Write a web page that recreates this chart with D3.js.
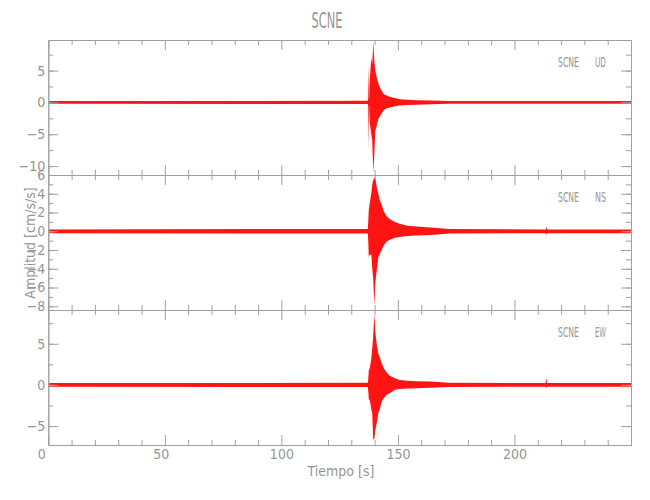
<!DOCTYPE html>
<html><head><meta charset="utf-8">
<script src="https://cdn.jsdelivr.net/npm/d3@7"></script>
<style>body{margin:0;background:#fff}</style>
</head><body><svg id="c" width="650" height="500"></svg>
<script>
const titleText = "SCNE";
const station = "SCNE";
const components = ["UD", "NS", "EW"];
const timeKnots = [0, 137.1, 137.35, 137.5, 137.65, 137.9, 138.6, 139.0, 139.4, 139.9, 140.3, 141.0, 141.6, 142.2, 143.1, 144.0, 145.2, 146.5, 148.7, 150.8, 154, 158, 164, 172, 213.4, 213.7, 214.0, 250];
const udMax = [0.22, 0.25, 6.0, 0.5, 0.6, 3.6, 7.0, 6.0, 9.4, 6.5, 5.0, 3.8, 3.0, 2.4, 1.8, 1.3, 1.1, 0.9, 0.7, 0.5, 0.4, 0.35, 0.3, 0.22, 0.22, 0.22, 0.22, 0.22];
const udMin = [-0.22, -0.25, -7.5, -0.5, -0.6, -3.2, -5.0, -6.0, -11.0, -8.0, -4.5, -3.5, -2.6, -2.2, -1.7, -1.2, -0.9, -0.8, -0.6, -0.5, -0.4, -0.35, -0.3, -0.22, -0.22, -0.22, -0.22, -0.22];
const nsMax = [0.2, 0.25, 1.5, 2.3, 2.5, 3.0, 4.1, 5.0, 5.5, 5.7, 5.7, 4.6, 4.0, 3.3, 2.8, 2.1, 1.6, 1.3, 1.0, 0.8, 0.6, 0.5, 0.4, 0.25, 0.2, 0.5, 0.2, 0.2];
const nsMin = [-0.2, -0.25, -1.5, -2.8, -2.7, -2.5, -2.5, -4.0, -5.0, -7.9, -5.5, -4.0, -2.8, -2.4, -2.0, -1.5, -1.1, -0.9, -0.7, -0.6, -0.5, -0.45, -0.4, -0.25, -0.2, -0.35, -0.2, -0.2];
const ewMax = [0.22, 0.25, 1.0, 1.8, 1.8, 2.0, 3.2, 4.5, 6.0, 8.7, 6.5, 4.8, 3.8, 3.4, 2.6, 2.0, 1.5, 1.1, 0.8, 0.6, 0.5, 0.45, 0.4, 0.25, 0.22, 0.85, 0.22, 0.22];
const ewMin = [-0.22, -0.25, -1.0, -1.8, -1.8, -1.8, -3.0, -3.5, -6.7, -6.5, -5.5, -4.5, -3.4, -3.0, -2.0, -1.6, -1.2, -1.0, -0.6, -0.5, -0.45, -0.4, -0.35, -0.25, -0.22, -0.35, -0.22, -0.22];
const seriesMax = [udMax, nsMax, ewMax];
const seriesMin = [udMin, nsMin, ewMin];
const yDomains = [[-11.4, 9.8], [-8.4, 6], [-7.3, 9.1]];
const yMajorTicks = [[-10, -5, 0, 5], [-8, -6, -4, -2, 0, 2, 4, 6], [-5, 0, 5]];
const yMinorTicks = [[-10, -7.5, -5, -2.5, 0, 2.5, 5, 7.5], [-8, -7, -6, -5, -4, -3, -2, -1, 0, 1, 2, 3, 4, 5, 6], [-5, -2.5, 0, 2.5, 5, 7.5]];
const xDomain = [0, 250];
const xMajorTicks = [0, 50, 100, 150, 200];
const xMinorTicks = [10, 20, 30, 40, 60, 70, 80, 90, 110, 120, 130, 140, 160, 170, 180, 190, 210, 220, 230, 240];
const xLabel = "Tiempo [s]";
const yLabel = "Amplitud [cm/s/s]";

const svg = d3.select("#c");
const L = 48.3, R = 631, T0 = 40, PH = 135;
const axisCol = "#a0a0a0", textCol = "#959595";
const font = "'Liberation Sans Narrow', 'DejaVu Sans Condensed', 'Liberation Sans', sans-serif";
const x = d3.scaleLinear().domain(xDomain).range([L, R]);

function styleAxis(g, showText) {
  g.selectAll("path.domain").attr("stroke", axisCol).attr("stroke-width", 1);
  g.selectAll(".tick line").attr("stroke", axisCol).attr("stroke-width", 1);
  g.selectAll(".tick text").attr("fill", textCol).attr("font-family", font).attr("font-size", 14);
  if (!showText) g.selectAll(".tick text").remove();
}

components.forEach((comp, i) => {
  const top = T0 + i * PH, bot = top + PH;
  const y = d3.scaleLinear().domain(yDomains[i]).range([bot, top]);
  const data = timeKnots.map((t, k) => ({t, hi: seriesMax[i][k], lo: seriesMin[i][k]}));
  const clipId = "clip" + i;
  svg.append("clipPath").attr("id", clipId).append("rect").attr("x", L).attr("y", top).attr("width", R - L).attr("height", PH);
  const area = d3.area().x(d => x(d.t)).y0(d => y(d.lo)).y1(d => y(d.hi));
  svg.append("path").datum(data).attr("clip-path", `url(#${clipId})`)
    .attr("d", area).attr("fill", "#ff0000").attr("fill-opacity", 0.92);

  svg.append("g").attr("transform", `translate(${L},0)`)
    .call(d3.axisLeft(y).tickValues(yMinorTicks[i]).tickSize(-5).tickSizeOuter(0).tickFormat(""))
    .call(g => styleAxis(g, false));
  svg.append("g").attr("transform", `translate(${L},0)`)
    .call(d3.axisLeft(y).tickValues(yMajorTicks[i]).tickSize(-10).tickSizeOuter(0).tickPadding(3))
    .call(g => styleAxis(g, true));
  svg.append("g").attr("transform", `translate(${R},0)`)
    .call(d3.axisRight(y).tickValues(yMinorTicks[i]).tickSize(-5).tickSizeOuter(0).tickFormat(""))
    .call(g => styleAxis(g, false));
  svg.append("g").attr("transform", `translate(${R},0)`)
    .call(d3.axisRight(y).tickValues(yMajorTicks[i]).tickSize(-10).tickSizeOuter(0).tickFormat(""))
    .call(g => styleAxis(g, false));
  svg.append("g").attr("transform", `translate(0,${top})`)
    .call(d3.axisTop(x).tickValues(xMinorTicks).tickSize(-5).tickSizeOuter(0).tickFormat(""))
    .call(g => styleAxis(g, false));
  svg.append("g").attr("transform", `translate(0,${top})`)
    .call(d3.axisTop(x).tickValues(xMajorTicks).tickSize(-10).tickSizeOuter(0).tickFormat(""))
    .call(g => styleAxis(g, false));
  svg.append("g").attr("transform", `translate(0,${bot})`)
    .call(d3.axisBottom(x).tickValues(xMinorTicks).tickSize(-5).tickSizeOuter(0).tickFormat(""))
    .call(g => styleAxis(g, false));
  const bx = svg.append("g").attr("transform", `translate(0,${bot})`)
    .call(d3.axisBottom(x).tickValues(xMajorTicks).tickSize(-10).tickSizeOuter(0).tickPadding(4))
    .call(g => styleAxis(g, i === components.length - 1));
  bx.selectAll(".tick text").attr("dx", d => d === 0 ? -7 : (d === 50 ? -4 : 0));

  svg.append("text").attr("x", 558).attr("y", top + 27).text(station)
    .attr("fill", textCol).attr("font-family", font).attr("font-size", 14)
    .attr("textLength", 21).attr("lengthAdjust", "spacingAndGlyphs");
  svg.append("text").attr("x", 595).attr("y", top + 27).text(comp)
    .attr("fill", textCol).attr("font-family", font).attr("font-size", 14)
    .attr("textLength", 11).attr("lengthAdjust", "spacingAndGlyphs");
});

svg.append("text").attr("x", 327).attr("y", 28).attr("text-anchor", "middle").text(titleText)
  .attr("fill", textCol).attr("font-family", font).attr("font-size", 21)
  .attr("textLength", 31).attr("lengthAdjust", "spacingAndGlyphs");
svg.append("text").attr("x", 341).attr("y", 476).attr("text-anchor", "middle").text(xLabel)
  .attr("fill", textCol).attr("font-family", font).attr("font-size", 14);
svg.append("text").attr("transform", "translate(35,243) rotate(-90)").attr("text-anchor", "middle").text(yLabel)
  .attr("fill", textCol).attr("font-family", font).attr("font-size", 14);
</script></body></html>
